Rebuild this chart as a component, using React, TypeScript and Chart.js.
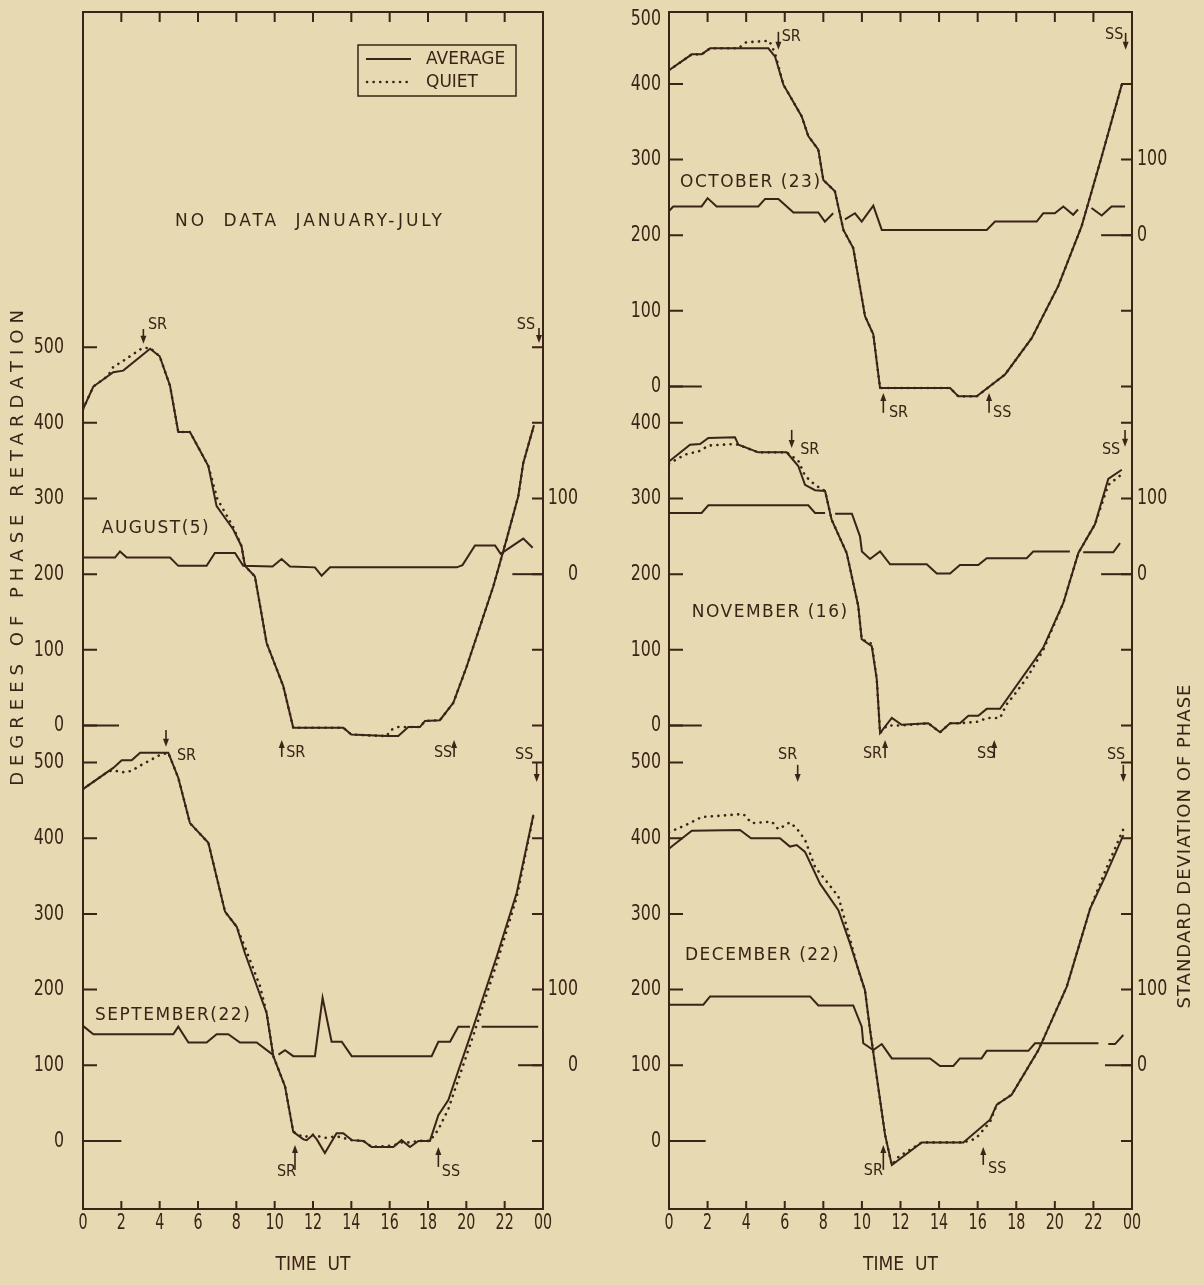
import React, { useEffect, useRef } from 'react';
import { Chart, registerables } from 'chart.js';

Chart.register(...registerables);

type Pt = [number, number | null];
type Note = { t: string; h: number; v: number; align?: CanvasTextAlign };
type Arrow = { h: number; from: number; to: number };

const BG = '#e7d9b1';
const INK = '#3b2317';
const NUM_FONT = "'DejaVu Sans Condensed', 'DejaVu Sans', sans-serif";
const TXT_FONT = "'DejaVu Sans', 'Liberation Sans', sans-serif";
const SMALL_FONT = "'DejaVu Sans Condensed', 'DejaVu Sans', sans-serif";

const PAGE_H = 1285;
const AREA_TOP = 12;
const AREA_BOTTOM = 1209;
const Y_MIN = -90;
const Y_MAX = 1492;

// ---- axis ticks ----
const HOURS = [0, 2, 4, 6, 8, 10, 12, 14, 16, 18, 20, 22, 24];
const HOUR_LABELS = ['0', '2', '4', '6', '8', '10', '12', '14', '16', '18', '20', '22', '00'];
const PHASE_TICKS_500 = [0, 100, 200, 300, 400, 500];
const PHASE_TICKS_400 = [0, 100, 200, 300, 400];
const STD_TICKS = [0, 100];

// ---- stacking of the monthly sub-plots (phase units) ----
const OFFSET_AUG = 549;
const OFFSET_SEP = 0;
const OFFSET_OCT = 997;
const OFFSET_NOV = 549;
const OFFSET_DEC = 0;
// phase level at which the standard deviation scale reads 0
const STD_BASE_AUG = 200;
const STD_BASE_SEP = 100;
const STD_BASE_OCT = 200;
const STD_BASE_NOV = 200;
const STD_BASE_DEC = 100;

// ---- AUGUST (5) ----
const AUG_AVG: Pt[] = [[0, 418], [0.54, 448], [1.58, 467], [2.1, 469], [3.5, 498], [4.0, 488], [4.54, 449], [4.97, 388], [5.58, 388], [6.54, 343], [6.97, 290], [7.84, 259], [8.27, 237], [8.45, 211], [8.97, 197], [9.58, 109], [10.45, 52], [10.97, -3], [13.58, -3], [14.0, -12], [15.84, -14], [16.45, -14], [16.97, -2], [17.58, -2], [17.84, 6], [18.62, 7], [19.32, 30], [20.02, 78], [21.41, 184], [22.1, 246], [22.71, 303], [22.97, 347], [23.53, 397]];
const AUG_QUIET: Pt[] = [[0, 418], [0.54, 448], [1.3, 462], [1.58, 474], [2.1, 482], [3.1, 499], [3.5, 499], [4.0, 488], [4.54, 449], [4.97, 388], [5.58, 388], [6.54, 343], [7.0, 300], [7.84, 262], [8.27, 237], [8.45, 211], [8.97, 197], [9.58, 109], [10.45, 52], [10.97, -3], [13.58, -3], [14.0, -12], [15.84, -14], [16.05, -6], [16.45, -2], [16.97, -2], [17.58, -2], [17.84, 6], [18.62, 7], [19.32, 30], [20.02, 78], [21.41, 184], [22.1, 246], [22.71, 303], [22.97, 347], [23.53, 397]];
const AUG_STD: Pt[] = [[0, 22], [1.67, 22], [1.93, 30], [2.28, 22], [4.54, 22], [4.97, 11], [6.45, 11], [6.88, 28], [7.93, 28], [8.36, 11], [9.89, 10], [10.36, 20], [10.8, 10], [12.1, 9], [12.45, -2], [12.89, 9], [19.5, 9], [19.8, 12], [20.45, 38], [21.5, 38], [21.79, 27], [22.97, 47], [23.46, 35]];
const AUG_REF: Pt[] = [[0, 0], [1.88, 0]];
const AUG_STD_REF: Pt[] = [[22.4, 0], [24, 0]];

// ---- SEPTEMBER (22) ----
const SEP_AVG: Pt[] = [[0, 465], [1.58, 493], [2.02, 503], [2.54, 503], [2.98, 513], [4.45, 513], [4.97, 480], [5.58, 420], [6.54, 394], [7.41, 303], [8.02, 283], [8.45, 248], [9.58, 169], [9.93, 112], [10.54, 72], [10.97, 12], [11.5, 2], [11.67, 1], [12.0, 8], [12.2, 2], [12.62, -16], [13.23, 10], [13.58, 10], [14.02, 1], [14.63, 0], [15.06, -8], [16.19, -8], [16.62, 1], [17.06, -8], [17.5, 0], [18.1, 0], [18.54, 34], [19.06, 54], [20.37, 151], [21.59, 244], [22.63, 328], [23.5, 431]];
const SEP_QUIET: Pt[] = [[0, 465], [1.3, 488], [1.58, 490], [2.02, 487], [2.54, 489], [2.98, 496], [3.5, 503], [4.0, 510], [4.45, 513], [4.97, 480], [5.58, 420], [6.54, 394], [7.41, 303], [8.02, 283], [8.45, 256], [9.23, 205], [9.58, 169], [9.93, 112], [10.54, 72], [10.97, 12], [11.5, 5], [12.0, 8], [12.62, 4], [13.23, 6], [13.58, 4], [14.02, 1], [14.63, 0], [15.06, -8], [16.19, -6], [16.62, -2], [17.06, -2], [17.5, 0], [18.1, 0], [18.54, 15], [19.06, 42], [20.37, 140], [21.59, 235], [22.63, 322], [23.5, 430]];
const SEP_STD: Pt[] = [[0, 52], [0.54, 41], [4.71, 41], [4.97, 51], [5.5, 30], [6.45, 30], [6.97, 41], [7.58, 41], [8.19, 30], [9.06, 30], [9.9, 14], [10.0, null], [10.2, 14], [10.54, 20], [10.97, 12], [12.1, 12], [12.5, 89], [12.97, 31], [13.5, 31], [14.02, 12], [18.19, 12], [18.54, 31], [19.15, 31], [19.58, 51], [20.19, 51], [20.5, null], [20.8, 51], [23.75, 51]];
const SEP_REF: Pt[] = [[0, 0], [2.0, 0]];
const SEP_STD_REF: Pt[] = [[22.7, 0], [24, 0]];

// ---- OCTOBER (23) ----
const OCT_AVG: Pt[] = [[0, 418], [1.18, 439], [1.69, 439], [2.13, 447], [5.15, 447], [5.5, 436], [5.93, 399], [6.88, 357], [7.22, 331], [7.74, 313], [8.0, 273], [8.6, 258], [9.04, 207], [9.55, 183], [10.16, 93], [10.59, 69], [10.94, -2], [14.57, -2], [15.0, -13], [15.95, -13], [17.42, 16], [18.8, 64], [20.18, 133], [21.39, 212], [22.43, 304], [23.47, 399]];
const OCT_QUIET: Pt[] = [[0, 418], [1.18, 439], [1.69, 439], [2.13, 447], [3.6, 447], [4.0, 455], [5.2, 457], [5.5, 440], [5.93, 399], [6.88, 357], [7.22, 331], [7.74, 313], [8.0, 273], [8.6, 258], [9.04, 207], [9.55, 183], [10.16, 93], [10.59, 69], [10.94, -2], [14.57, -2], [15.0, -13], [15.95, -13], [17.42, 16], [18.8, 64], [20.18, 133], [21.39, 212], [22.43, 304], [23.47, 399]];
const OCT_STD: Pt[] = [[0, 32], [0.22, 38], [1.69, 38], [2.0, 49], [2.47, 38], [4.63, 38], [4.98, 48], [5.67, 48], [6.45, 30], [7.74, 30], [8.08, 18], [8.51, 29], [8.8, null], [9.12, 21], [9.64, 29], [9.99, 18], [10.59, 39], [11.03, 7], [16.47, 7], [16.9, 18], [19.06, 18], [19.4, 29], [20.0, 29], [20.44, 38], [20.95, 27], [21.2, 34], [21.5, null], [21.9, 36], [22.43, 26], [22.94, 38], [23.64, 38]];
const OCT_REF: Pt[] = [[0, 0], [1.7, 0]];
const OCT_STD_REF: Pt[] = [[22.4, 0], [24, 0]];

// ---- NOVEMBER (16) ----
const NOV_AVG: Pt[] = [[0, 349], [1.09, 371], [1.61, 372], [2.04, 380], [3.42, 381], [3.6, 371], [4.63, 361], [6.1, 361], [6.7, 343], [7.05, 318], [7.57, 311], [8.09, 310], [8.43, 272], [9.21, 228], [9.81, 158], [9.99, 114], [10.51, 105], [10.77, 61], [10.94, -10], [11.55, 10], [12.06, 1], [13.44, 3], [14.05, -9], [14.57, 3], [15.08, 3], [15.52, 13], [16.03, 13], [16.47, 22], [17.16, 22], [18.97, 87], [19.4, 103], [20.44, 162], [21.22, 228], [22.08, 266], [22.77, 326], [23.47, 338]];
const NOV_QUIET: Pt[] = [[0, 346], [0.83, 358], [1.61, 363], [2.04, 370], [3.42, 372], [3.6, 371], [4.63, 361], [6.1, 361], [6.7, 350], [7.05, 330], [7.57, 318], [8.09, 310], [8.43, 272], [9.21, 228], [9.81, 158], [9.99, 114], [10.51, 108], [10.77, 61], [10.94, -10], [11.3, 0], [12.06, 0], [13.44, 3], [14.05, -9], [14.57, 3], [15.08, 3], [15.52, 4], [16.03, 5], [16.47, 10], [17.16, 10], [17.5, 28], [18.0, 44], [18.63, 66], [19.4, 100], [20.44, 162], [21.22, 228], [22.08, 266], [22.77, 318], [23.47, 332]];
const NOV_STD: Pt[] = [[0, 81], [1.69, 81], [2.04, 91], [7.22, 91], [7.57, 81], [8.09, 81], [8.3, null], [8.61, 80], [9.48, 80], [9.9, 50], [10.0, 30], [10.42, 20], [10.94, 30], [11.46, 13], [13.36, 13], [13.88, 1], [14.57, 1], [15.08, 12], [16.03, 12], [16.47, 21], [18.54, 21], [18.88, 30], [20.78, 30], [21.1, null], [21.47, 29], [23.03, 29], [23.38, 41]];
const NOV_REF: Pt[] = [[0, 0], [1.7, 0]];
const NOV_STD_REF: Pt[] = [[22.4, 0], [24, 0]];

// ---- DECEMBER (22) ----
const DEC_AVG: Pt[] = [[0, 386], [0.14, 389], [1.18, 410], [3.68, 411], [4.25, 400], [5.75, 400], [6.27, 389], [6.62, 391], [7.05, 382], [7.83, 340], [8.78, 305], [9.38, 261], [10.16, 199], [10.42, 147], [11.2, 8], [11.55, -32], [13.1, -2], [15.26, -2], [16.64, 28], [16.99, 48], [17.76, 61], [19.15, 120], [20.62, 204], [21.83, 307], [22.6, 349], [23.55, 404]];
const DEC_QUIET: Pt[] = [[0, 408], [0.83, 417], [1.69, 428], [3.85, 432], [4.29, 420], [5.33, 422], [5.67, 412], [6.27, 421], [6.62, 413], [7.05, 398], [7.57, 362], [8.26, 340], [8.78, 323], [9.21, 283], [9.81, 226], [10.16, 199], [10.42, 147], [11.2, 8], [11.55, -32], [11.9, -21], [13.1, -2], [15.26, -2], [15.9, 3], [16.64, 25], [16.99, 48], [17.76, 61], [19.15, 120], [20.62, 204], [21.83, 307], [22.6, 356], [23.55, 412]];
const DEC_STD: Pt[] = [[0, 80], [1.78, 80], [2.13, 91], [7.31, 91], [7.74, 79], [9.55, 79], [9.99, 51], [10.07, 29], [10.59, 20], [11.03, 28], [11.55, 9], [13.53, 9], [14.05, -1], [14.74, -1], [15.08, 9], [16.2, 9], [16.47, 19], [18.63, 19], [18.97, 29], [22.26, 29], [22.5, null], [22.77, 28], [23.12, 28], [23.55, 40]];
const DEC_REF: Pt[] = [[0, 0], [1.9, 0]];
const DEC_STD_REF: Pt[] = [[22.6, 0], [24, 0]];

// ---- annotations (hours, stacked phase units) ----
const LEFT_NOTES: Note[] = [
  { t: 'SR', h: 3.39, v: 1078.5 }, { t: 'SS', h: 22.63, v: 1078.5 },
  { t: 'SR', h: 10.6, v: 512.8 }, { t: 'SS', h: 18.31, v: 512.8 },
  { t: 'SR', h: 4.9, v: 508.9 }, { t: 'SS', h: 22.54, v: 510.2 },
  { t: 'SR', h: 10.12, v: -41 }, { t: 'SS', h: 18.72, v: -41 },
];
const LEFT_ARROWS: Arrow[] = [
  { h: 3.15, from: 1073, to: 1053.4 }, { h: 23.79, from: 1074.5, to: 1054.7 },
  { h: 10.37, from: 507.5, to: 530 }, { h: 19.36, from: 507.5, to: 530 },
  { h: 4.33, from: 543.2, to: 520.8 }, { h: 23.67, from: 499.6, to: 474.5 },
  { h: 11.06, from: -38.3, to: -5.3 }, { h: 18.54, from: -34.4, to: -7.9 },
];
const LEFT_LABELS: Note[] = [
  { t: 'AUGUST(5)', h: 0.98, v: 809 },
  { t: 'SEPTEMBER(22)', h: 0.63, v: 165 },
];
const NO_DATA: Note = { t: 'NO  DATA  JANUARY-JULY', h: 11.84, v: 1214.6, align: 'center' };
const RIGHT_NOTES: Note[] = [
  { t: 'SR', h: 5.84, v: 1459.2 }, { t: 'SS', h: 22.6, v: 1461.8 },
  { t: 'SR', h: 11.4, v: 962.2 }, { t: 'SS', h: 16.8, v: 962.2 },
  { t: 'SR', h: 6.8, v: 913.3 }, { t: 'SS', h: 22.44, v: 913.3 },
  { t: 'SR', h: 10.05, v: 511.5 }, { t: 'SS', h: 15.97, v: 511.5 },
  { t: 'SR', h: 5.65, v: 510.2 }, { t: 'SS', h: 22.7, v: 510.2 },
  { t: 'SR', h: 10.1, v: -39.7 }, { t: 'SS', h: 16.54, v: -37 },
];
const RIGHT_ARROWS: Arrow[] = [
  { h: 5.67, from: 1465.8, to: 1442 }, { h: 23.67, from: 1464.4, to: 1442 },
  { h: 11.11, from: 962.2, to: 988.6 }, { h: 16.59, from: 962.2, to: 988.6 },
  { h: 6.36, from: 939.7, to: 915.9 }, { h: 23.64, from: 939.7, to: 917.3 },
  { h: 11.2, from: 506.2, to: 530 }, { h: 16.86, from: 506.2, to: 530 },
  { h: 6.67, from: 497, to: 474.5 }, { h: 23.55, from: 497, to: 474.5 },
  { h: 11.11, from: -38.3, to: -5.3 }, { h: 16.29, from: -31.7, to: -7.9 },
];
const RIGHT_LABELS: Note[] = [
  { t: 'OCTOBER (23)', h: 0.57, v: 1266 },
  { t: 'NOVEMBER (16)', h: 1.18, v: 698 },
  { t: 'DECEMBER (22)', h: 0.83, v: 244.5 },
];

type Month = { avg: Pt[]; quiet: Pt[]; std: Pt[]; ref: Pt[]; stdRef: Pt[]; offset: number; stdBase: number; phaseTicks: number[] };

const LEFT_MONTHS: Month[] = [
  { avg: AUG_AVG, quiet: AUG_QUIET, std: AUG_STD, ref: AUG_REF, stdRef: AUG_STD_REF, offset: OFFSET_AUG, stdBase: STD_BASE_AUG, phaseTicks: PHASE_TICKS_500 },
  { avg: SEP_AVG, quiet: SEP_QUIET, std: SEP_STD, ref: SEP_REF, stdRef: SEP_STD_REF, offset: OFFSET_SEP, stdBase: STD_BASE_SEP, phaseTicks: PHASE_TICKS_500 },
];
const RIGHT_MONTHS: Month[] = [
  { avg: OCT_AVG, quiet: OCT_QUIET, std: OCT_STD, ref: OCT_REF, stdRef: OCT_STD_REF, offset: OFFSET_OCT, stdBase: STD_BASE_OCT, phaseTicks: PHASE_TICKS_500 },
  { avg: NOV_AVG, quiet: NOV_QUIET, std: NOV_STD, ref: NOV_REF, stdRef: NOV_STD_REF, offset: OFFSET_NOV, stdBase: STD_BASE_NOV, phaseTicks: PHASE_TICKS_400 },
  { avg: DEC_AVG, quiet: DEC_QUIET, std: DEC_STD, ref: DEC_REF, stdRef: DEC_STD_REF, offset: OFFSET_DEC, stdBase: STD_BASE_DEC, phaseTicks: PHASE_TICKS_500 },
];

const toData = (pts: Pt[], shift: number) =>
  pts.map(([h, v]) => ({ x: h, y: v === null ? null : v + shift }));

const solid = { borderColor: INK, borderWidth: 2, pointRadius: 0, tension: 0, fill: false, spanGaps: false };
const dotted = { ...solid, borderWidth: 2.6, borderDash: [0.1, 6.5], borderCapStyle: 'round' as const };

function buildDatasets(months: Month[]) {
  const ds: any[] = [];
  months.forEach((m) => {
    ds.push({ ...solid, data: toData(m.avg, m.offset) });
    ds.push({ ...dotted, data: toData(m.quiet, m.offset) });
    ds.push({ ...solid, data: toData(m.std, m.offset + m.stdBase) });
    ds.push({ ...solid, data: toData(m.ref, m.offset) });
    ds.push({ ...solid, data: toData(m.stdRef, m.offset + m.stdBase) });
  });
  return ds;
}

type Tick = { pos: number; label: string; mark: boolean };
function phaseTicks(months: Month[]): Tick[] {
  const out: Tick[] = [];
  months.forEach((m) =>
    m.phaseTicks.forEach((p) => {
      const raw = p + m.offset;
      const clamped = raw > Y_MAX - 10;
      out.push({ pos: clamped ? Y_MAX - 10 : raw, label: String(p), mark: !clamped });
    })
  );
  return out;
}
function stdTicks(months: Month[]): Tick[] {
  const out: Tick[] = [];
  months.forEach((m) => STD_TICKS.forEach((s) => out.push({ pos: s + m.offset + m.stdBase, label: String(s), mark: false })));
  return out;
}

function drawArrow(ctx: CanvasRenderingContext2D, x: number, y1: number, y2: number) {
  const dir = Math.sign(y2 - y1);
  ctx.beginPath();
  ctx.moveTo(x, y1);
  ctx.lineTo(x, y2 - dir * 4);
  ctx.stroke();
  ctx.beginPath();
  ctx.moveTo(x, y2);
  ctx.lineTo(x - 3, y2 - dir * 8);
  ctx.lineTo(x + 3, y2 - dir * 8);
  ctx.closePath();
  ctx.fill();
}

// tall, narrow lettering like the original figure
function narrowText(ctx: CanvasRenderingContext2D, text: string, x: number, y: number, align: CanvasTextAlign, size: number, squeeze: number) {
  ctx.save();
  ctx.translate(x, y);
  ctx.scale(squeeze, 1);
  ctx.font = `${size}px ${NUM_FONT}`;
  ctx.textAlign = align;
  ctx.textBaseline = 'middle';
  ctx.fillText(text, 0, 0);
  ctx.restore();
}

type PanelSpec = {
  months: Month[];
  notes: Note[];
  arrows: Arrow[];
  labels: Note[];
  legend: boolean;
  canvasLeft: number;
  canvasWidth: number;
  areaLeft: number;
  areaRight: number;
  leftLabelX: number;
  rightLabelX: number;
  rightAlign: CanvasTextAlign;
  title: { text: string; x: number; y: number; spacing: number };
};

function makeDecor(spec: PanelSpec, levels: Tick[]) {
  return {
    id: 'decor',
    afterDraw(chart: any) {
      const { ctx, chartArea: ca, scales } = chart;
      const X = (h: number) => scales.x.getPixelForValue(h);
      const Y = (v: number) => scales.y.getPixelForValue(v);
      ctx.save();
      ctx.strokeStyle = INK;
      ctx.fillStyle = INK;
      ctx.lineWidth = 2;
      ctx.strokeRect(ca.left, ca.top, ca.right - ca.left, ca.bottom - ca.top);
      ctx.beginPath();
      HOURS.slice(1, -1).forEach((h) => {
        const x = X(h);
        ctx.moveTo(x, ca.top);
        ctx.lineTo(x, ca.top + 10);
        ctx.moveTo(x, ca.bottom);
        ctx.lineTo(x, ca.bottom - 8);
      });
      levels.forEach((t) => {
        if (!t.mark) return;
        const y = Y(t.pos);
        ctx.moveTo(ca.left, y);
        ctx.lineTo(ca.left + 14, y);
        ctx.moveTo(ca.right, y);
        ctx.lineTo(ca.right - 11, y);
      });
      ctx.stroke();

      // tick labels from the library's scales
      scales.x.ticks.forEach((t: any) => narrowText(ctx, t.label, scales.x.getPixelForValue(t.value), ca.bottom + 14, 'center', 22, 0.72));
      scales.y.ticks.forEach((t: any) => narrowText(ctx, t.label, spec.leftLabelX, scales.y.getPixelForValue(t.value), 'right', 22, 0.8));
      scales.y2.ticks.forEach((t: any) => narrowText(ctx, t.label, spec.rightLabelX, scales.y2.getPixelForValue(t.value), spec.rightAlign, 22, 0.8));

      // sunrise / sunset arrows
      ctx.lineWidth = 1.6;
      spec.arrows.forEach((a) => drawArrow(ctx, X(a.h), Y(a.from), Y(a.to)));
      ctx.textBaseline = 'middle';
      ctx.textAlign = 'left';
      ctx.font = `16px ${SMALL_FONT}`;
      spec.notes.forEach((n) => ctx.fillText(n.t, X(n.h), Y(n.v)));

      // month labels
      ctx.font = `17px ${TXT_FONT}`;
      (ctx as any).letterSpacing = '1.5px';
      spec.labels.forEach((n) => {
        ctx.textAlign = n.align || 'left';
        ctx.fillText(n.t, X(n.h), Y(n.v));
      });
      (ctx as any).letterSpacing = '0px';

      if (spec.legend) {
        ctx.font = `17px ${TXT_FONT}`;
        (ctx as any).letterSpacing = '2.9px';
        ctx.textAlign = 'center';
        ctx.fillText(NO_DATA.t, X(NO_DATA.h), Y(NO_DATA.v));
        (ctx as any).letterSpacing = '0px';

        const bx = ca.left + 275;
        const by = ca.top + 33;
        ctx.lineWidth = 1.5;
        ctx.strokeRect(bx, by, 158, 51);
        ctx.lineWidth = 2;
        ctx.beginPath();
        ctx.moveTo(bx + 8, by + 14);
        ctx.lineTo(bx + 53, by + 14);
        ctx.stroke();
        ctx.setLineDash([0.1, 6.5]);
        ctx.lineCap = 'round';
        ctx.lineWidth = 2.6;
        ctx.beginPath();
        ctx.moveTo(bx + 9, by + 37);
        ctx.lineTo(bx + 53, by + 37);
        ctx.stroke();
        ctx.setLineDash([]);
        ctx.lineCap = 'butt';
        ctx.font = `17px ${TXT_FONT}`;
        ctx.textAlign = 'left';
        ctx.fillText('AVERAGE', bx + 68, by + 15);
        ctx.fillText('QUIET', bx + 68, by + 38);
      }

      // rotated axis title
      ctx.save();
      ctx.translate(spec.title.x, spec.title.y);
      ctx.rotate(-Math.PI / 2);
      ctx.font = `18px ${TXT_FONT}`;
      (ctx as any).letterSpacing = `${spec.title.spacing}px`;
      ctx.textAlign = 'center';
      ctx.textBaseline = 'middle';
      ctx.fillText(spec.title.text, 0, 0);
      ctx.restore();
      ctx.restore();
    },
  };
}

const zeroPad = (s: any) => {
  s.paddingTop = 0;
  s.paddingBottom = 0;
  s.paddingLeft = 0;
  s.paddingRight = 0;
};

function Panel({ spec }: { spec: PanelSpec }) {
  const ref = useRef<HTMLCanvasElement>(null);
  useEffect(() => {
    const left = phaseTicks(spec.months);
    const right = stdTicks(spec.months);
    const chart = new Chart(ref.current as HTMLCanvasElement, {
      type: 'line',
      data: { datasets: buildDatasets(spec.months) },
      options: {
        animation: false,
        responsive: false,
        events: [],
        layout: { padding: { top: AREA_TOP, left: 0, right: 0, bottom: 0 } },
        plugins: { legend: { display: false }, tooltip: { enabled: false } },
        scales: {
          x: {
            type: 'linear',
            min: 0,
            max: 24,
            bounds: 'data',
            grid: { display: false, drawTicks: false },
            border: { display: false },
            afterBuildTicks: (s: any) => { s.ticks = HOURS.map((v) => ({ value: v })); },
            afterFit: (s: any) => { s.height = PAGE_H - AREA_BOTTOM; zeroPad(s); },
            ticks: { display: false, autoSkip: false, maxRotation: 0, callback: (_v: any, i: number) => HOUR_LABELS[i] },
            title: {
              display: true, text: 'TIME  UT', color: INK,
              font: { family: SMALL_FONT, size: 19 },
              padding: { top: 0, bottom: 9 },
            },
          },
          y: {
            type: 'linear',
            position: 'left',
            min: Y_MIN,
            max: Y_MAX,
            bounds: 'data',
            grid: { display: false, drawTicks: false },
            border: { display: false },
            afterBuildTicks: (s: any) => { s.ticks = left.map((t) => ({ value: t.pos })); },
            afterFit: (s: any) => { s.width = spec.areaLeft; zeroPad(s); },
            ticks: { display: false, autoSkip: false, callback: (_v: any, i: number) => left[i].label },
          },
          y2: {
            type: 'linear',
            position: 'right',
            min: Y_MIN,
            max: Y_MAX,
            bounds: 'data',
            grid: { display: false, drawTicks: false },
            border: { display: false },
            afterBuildTicks: (s: any) => { s.ticks = right.map((t) => ({ value: t.pos })); },
            afterFit: (s: any) => { s.width = spec.canvasWidth - spec.areaRight; zeroPad(s); },
            ticks: { display: false, autoSkip: false, callback: (_v: any, i: number) => right[i].label },
          },
        },
      } as any,
      plugins: [makeDecor(spec, left)],
    });
    return () => chart.destroy();
  }, []);
  return (
    <canvas
      ref={ref}
      width={spec.canvasWidth}
      height={PAGE_H}
      style={{ position: 'absolute', left: spec.canvasLeft, top: 0, width: spec.canvasWidth, height: PAGE_H }}
    />
  );
}

const LEFT_SPEC: PanelSpec = {
  months: LEFT_MONTHS, notes: LEFT_NOTES, arrows: LEFT_ARROWS, labels: LEFT_LABELS, legend: true,
  canvasLeft: 0, canvasWidth: 600, areaLeft: 83, areaRight: 543,
  leftLabelX: 64, rightLabelX: 578, rightAlign: 'right',
  title: { text: 'DEGREES OF PHASE RETARDATION', x: 18, y: 545, spacing: 6 },
};
const RIGHT_SPEC: PanelSpec = {
  months: RIGHT_MONTHS, notes: RIGHT_NOTES, arrows: RIGHT_ARROWS, labels: RIGHT_LABELS, legend: false,
  canvasLeft: 600, canvasWidth: 604, areaLeft: 69, areaRight: 532,
  leftLabelX: 61, rightLabelX: 537, rightAlign: 'left',
  title: { text: 'STANDARD DEVIATION OF PHASE', x: 585, y: 846, spacing: 1 },
};

export default function App() {
  return (
    <div style={{ position: 'absolute', left: 0, top: 0, width: 1204, height: PAGE_H, background: BG, overflow: 'hidden' }}>
      <Panel spec={LEFT_SPEC} />
      <Panel spec={RIGHT_SPEC} />
    </div>
  );
}
